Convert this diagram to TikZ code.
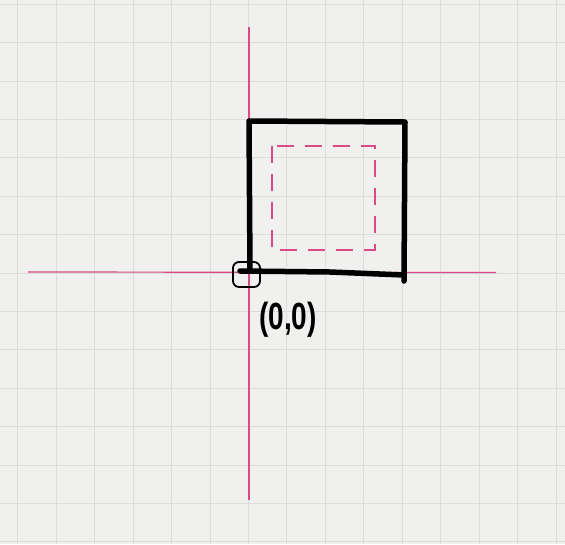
\documentclass[tikz,border=0pt]{standalone}
\usepackage{fontspec}
\setmainfont{Liberation Sans}
\definecolor{PaperGray}{HTML}{F0F0EE}
\definecolor{GridGray}{HTML}{DCDCDA}
\definecolor{AxisPink}{HTML}{D94A86}

\begin{document}
\begin{tikzpicture}[
  x=1pt, y=-1pt,
  gridline/.style={draw=GridGray, line width=0.9pt},
  axis/.style={draw=AxisPink, line width=1.2pt},
  outline/.style={draw=black, line width=5.5pt, line cap=round, line join=round},
  inset/.style={draw=AxisPink, line width=1.3pt, dash pattern=on 17pt off 11pt},
  marker/.style={draw=black, line width=1.8pt, rounded corners=6pt,
    minimum width=27pt, minimum height=25pt, inner sep=0pt}
]

% paper and grid
\fill[PaperGray] (0,0) rectangle (565,544);
\useasboundingbox (0,0) rectangle (565,544);
\foreach \k in {0,...,14} {
  \draw[gridline] ({17.7+38.45*\k},0) -- ++(0,544);
  \draw[gridline] (0,{4.3+38.4*\k}) -- ++(565,0);
}

% axes
\coordinate (xstart) at (28,272);
\coordinate (xend) at (496,272.5);
\coordinate (ystart) at (249,27);
\coordinate (yend) at (249,500);
\draw[axis] (xstart) -- (xend);
\draw[axis] (ystart) -- (yend);

% the square
\coordinate (sqbl) at (250,271);
\coordinate (sqtl) at (249,121);
\coordinate (sqtr) at (405,122);
\coordinate (sqbr) at (404,281);
\draw[outline] (sqbl) -- (sqtl) -- (sqtr) -- (sqbr);
\draw[outline] (240,271) -- (330,272) -- (404,275);

% dashed inner square
\draw[inset] (272,146) rectangle (375,250);

% origin
\node[marker] (origin) at (246.5,274.5) {};
\node[font=\bfseries\fontsize{28}{28}\selectfont] (origlabel) at (288,320)
  {\scalebox{1}[1.35]{(0,0)}};

\end{tikzpicture}
\end{document}
